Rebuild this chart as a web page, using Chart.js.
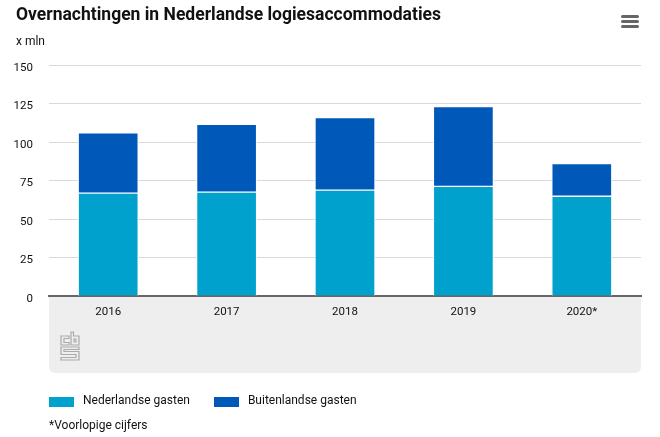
<!DOCTYPE html>
<html>
<head>
<meta charset="utf-8">
<title>Overnachtingen</title>
<script src="https://cdn.jsdelivr.net/npm/chart.js@4"></script>
<style>
  html, body { margin: 0; padding: 0; background: #fff; }
  body { position: relative; width: 660px; height: 437px; overflow: hidden; font-family: Roboto, sans-serif; color: #111; }
  canvas { position: absolute; left: 0; top: 0; }
  .txt { position: absolute; white-space: nowrap; }
  #title { left: 16px; top: 4px; font: 700 17.5px Roboto, sans-serif; }
  #unit { left: 16px; top: 34px; font-size: 12px; }
  #note { left: 49px; top: 418px; font-size: 12px; }
  #legend { position: absolute; left: 49px; top: 393px; display: flex; font-size: 12px; }
  #legend span.item { display: flex; align-items: center; margin-right: 24px; }
  #legend i { display: block; width: 25px; height: 10px; margin-right: 9px; margin-top: 3px; }
  #menu { position: absolute; left: 621px; top: 15px; }
  #logo { position: absolute; left: 60px; top: 331px; }
</style>
</head>
<body>
<canvas id="chart" width="660" height="437"></canvas>
<div class="txt" id="title">Overnachtingen in Nederlandse logiesaccommodaties</div>
<div class="txt" id="unit">x mln</div>
<div id="legend"></div>
<div class="txt" id="note">*Voorlopige cijfers</div>
<svg id="menu" width="18" height="14"><g fill="#666"><rect y="0" width="18" height="3" rx="1.5"/><rect y="5" width="18" height="3" rx="1.5"/><rect y="10" width="18" height="3" rx="1.5"/></g></svg>
<svg id="logo" width="20" height="31" fill="none" stroke="#aaaaaa" stroke-width="1.2">
  <path d="M1 5h8v2.5H4v4h5V14H1z"/>
  <path d="M11 1h2.5v4H19v9h-8z"/><path d="M14 8h2v3h-2z"/>
  <path d="M1 16h18v2.5H4v2h15V29H1v-2.5h15v-3H1z"/>
</svg>
<script>
const categories = ['2016', '2017', '2018', '2019', '2020*'];
const dutchGuests = [66.8, 67.4, 68.8, 71.2, 64.8];
const foreignGuests = [39.2, 44, 47, 51.8, 21.2];
const yTicks = [0, 25, 50, 75, 100, 125, 150];
const seriesNames = ['Nederlandse gasten', 'Buitenlandse gasten'];
const seriesColors = ['#00a1cd', '#0058b8'];

const panelPlugin = {
    id: 'panel',
    beforeDraw(chart) {
        const ctx = chart.ctx;
        const a = chart.chartArea;
        ctx.save();
        ctx.fillStyle = '#eeeeee';
        ctx.beginPath();
        ctx.roundRect(a.left, a.bottom + 1, a.right - a.left, 76, [0, 0, 6, 6]);
        ctx.fill();
        ctx.restore();
    }
};

new Chart(document.getElementById('chart'), {
    type: 'bar',
    data: {
        labels: categories,
        datasets: [
            { label: seriesNames[0], data: dutchGuests, backgroundColor: seriesColors[0], borderSkipped: 'bottom' },
            { label: seriesNames[1], data: foreignGuests, backgroundColor: seriesColors[1], borderSkipped: false }
        ]
    },
    options: {
        responsive: false,
        animation: false,
        devicePixelRatio: 1,
        layout: { padding: { top: 65, right: 19, bottom: 111, left: 0 } },
        datasets: { bar: { barThickness: 60, borderWidth: 1, borderColor: '#ffffff' } },
        scales: {
            x: {
                stacked: true,
                z: 1,
                afterFit(scale) { scale.height = 30; },
                grid: { display: false },
                border: { display: true, color: '#666666', width: 2 },
                ticks: { color: '#111', padding: 1, font: { family: 'Roboto', size: 11.5 } }
            },
            y: {
                stacked: true,
                min: 0,
                max: 150,
                afterFit(scale) { scale.width = 49; },
                afterBuildTicks(scale) { scale.ticks = yTicks.map(v => ({ value: v })); },
                grid: { color: '#d9d9d9', lineWidth: 1, drawTicks: false },
                border: { display: false },
                ticks: { color: '#111', padding: 16, labelOffset: 3, font: { family: 'Roboto', size: 11.5 } }
            }
        },
        plugins: { legend: { display: false }, tooltip: { enabled: false } }
    },
    plugins: [panelPlugin]
});

document.getElementById('legend').innerHTML = seriesNames.map(function (name, i) {
    return '<span class="item"><i style="background:' + seriesColors[i] + '"></i>' + name + '</span>';
}).join('');
</script>
</body>
</html>
